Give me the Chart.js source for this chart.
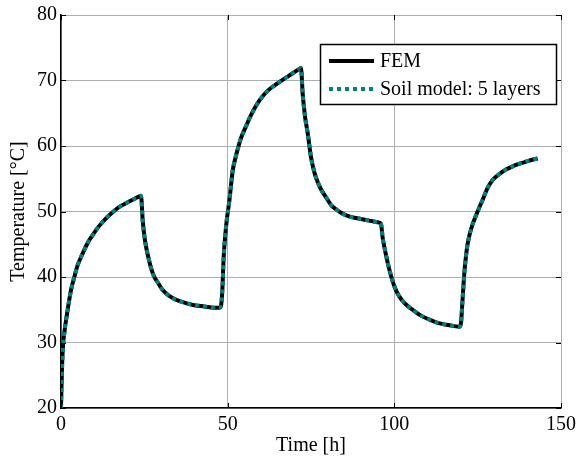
<!DOCTYPE html>
<html>
<head>
<meta charset="utf-8">
<script src="https://cdn.jsdelivr.net/npm/chart.js@4"></script>
<style>
  html, body { margin: 0; padding: 0; background: #fff; }
  #wrap { width: 578px; height: 462px; }
</style>
</head>
<body>
<div id="wrap"><canvas id="myChart" width="578" height="462"></canvas></div>
<script>
// time [h]
var time_h = [0, 0.3, 0.6, 1, 2, 3, 4, 5, 6.5, 8, 9.5, 11, 12.5, 14, 15.5, 17.5, 19.6, 21.5, 23.5, 24,
  24.5, 25, 25.6, 26.3, 27, 28, 29, 30.5, 32.5, 34.6, 37, 40, 43, 46, 47.5,
  48, 48.4, 48.8, 49.3, 49.8, 50.5, 51.5, 52.5, 54, 55.5, 56.6, 58, 59.6, 61, 62.6, 64.5, 66.5, 68, 69.5, 71, 72,
  72.5, 73.2, 74, 75, 76, 77, 78, 79.6, 81, 82.6, 84, 85.6, 87.5, 89.6, 91.5, 93.5, 95.5, 96,
  96.5, 97, 98, 99, 100, 101.5, 103.5, 105.5, 108, 110.5, 113, 115.6, 118, 119.5,
  120, 120.4, 121, 121.5, 122, 123, 124.6, 126.5, 128, 129.5, 131.5, 133.5, 135.5, 137.6, 140, 143];

// FEM temperature [C]
var fem_temp = [20, 26, 29.5, 31.5, 35, 38, 40, 41.8, 43.6, 45.2, 46.4, 47.5, 48.4, 49.2, 49.9, 50.7, 51.3, 51.8, 52.3, 52.4,
  48.7, 46.3, 44.4, 42.8, 41.4, 40.0, 39.2, 38.0, 37.1, 36.5, 36.1, 35.7, 35.5, 35.3, 35.3,
  35.6, 38, 43, 46.5, 49, 51.6, 56.2, 58.5, 61.2, 63, 64.3, 65.7, 67, 67.9, 68.7, 69.4, 70.1, 70.6, 71.1, 71.6, 71.9,
  68, 64.5, 62, 58.3, 56, 54.5, 53.4, 52.1, 51, 50.3, 49.8, 49.4, 49.1, 48.9, 48.7, 48.5, 48.3, 48.1,
  46, 44.6, 42.2, 40.2, 38.6, 37, 35.8, 35, 34.1, 33.5, 33, 32.7, 32.5, 32.4,
  33, 36, 40.6, 43.2, 45.1, 47.3, 49.5, 51.8, 53.6, 54.8, 55.7, 56.4, 56.9, 57.3, 57.7, 58.1];

// soil model, 5 layers (lies on top of FEM)
var soil_temp = [20, 26, 29.5, 31.5, 35, 38, 40, 41.8, 43.6, 45.2, 46.4, 47.5, 48.4, 49.2, 49.9, 50.7, 51.3, 51.8, 52.3, 52.4,
  48.7, 46.3, 44.4, 42.8, 41.4, 40.0, 39.2, 38.0, 37.1, 36.5, 36.1, 35.7, 35.5, 35.3, 35.3,
  35.6, 38, 43, 46.5, 49, 51.6, 56.2, 58.5, 61.2, 63, 64.3, 65.7, 67, 67.9, 68.7, 69.4, 70.1, 70.6, 71.1, 71.6, 71.9,
  68, 64.5, 62, 58.3, 56, 54.5, 53.4, 52.1, 51, 50.3, 49.8, 49.4, 49.1, 48.9, 48.7, 48.5, 48.3, 48.1,
  46, 44.6, 42.2, 40.2, 38.6, 37, 35.8, 35, 34.1, 33.5, 33, 32.7, 32.5, 32.4,
  33, 36, 40.6, 43.2, 45.1, 47.3, 49.5, 51.8, 53.6, 54.8, 55.7, 56.4, 56.9, 57.3, 57.7, 58.1];

var series_names = ['FEM', 'Soil model: 5 layers'];
var x_ticks = [0, 50, 100, 150];
var y_ticks = [20, 30, 40, 50, 60, 70, 80];

var FONT = 'Liberation Serif, Times New Roman, serif';

function toPoints(xs, ys) {
  let out = [];
  for (let i in xs) out.push({ x: xs[i], y: ys[i] });
  return out;
}

// matlab-style inner tick marks on all four sides
var innerTicks = {
  id: 'innerTicks',
  afterDatasetsDraw(chart) {
    const ctx = chart.ctx, a = chart.chartArea;
    const xs = chart.scales.x, ys = chart.scales.y;
    ctx.save();
    ctx.strokeStyle = '#000';
    ctx.lineWidth = 1;
    ctx.beginPath();
    x_ticks.forEach(v => {
      const px = Math.round(xs.getPixelForValue(v)) + 0.5;
      ctx.moveTo(px, a.bottom); ctx.lineTo(px, a.bottom - 5);
      ctx.moveTo(px, a.top); ctx.lineTo(px, a.top + 5);
    });
    y_ticks.forEach(v => {
      const py = Math.round(ys.getPixelForValue(v)) + 0.5;
      ctx.moveTo(a.left, py); ctx.lineTo(a.left + 5, py);
      ctx.moveTo(a.right, py); ctx.lineTo(a.right - 5, py);
    });
    ctx.stroke();
    ctx.restore();
  }
};

// legend box in upper right of plot
var boxLegend = {
  id: 'boxLegend',
  afterDraw(chart) {
    const ctx = chart.ctx;
    const bx = 320, by = 44, bw = 236, bh = 60;
    ctx.save();
    ctx.fillStyle = '#fff';
    ctx.fillRect(bx, by, bw, bh);
    ctx.strokeStyle = '#000';
    ctx.lineWidth = 1.5;
    ctx.strokeRect(bx + 0.5, by + 0.5, bw, bh);
    ctx.font = '20px ' + FONT;
    ctx.textBaseline = 'middle';
    ctx.textAlign = 'left';
    const rows = [61, 89];
    chart.data.datasets.forEach((ds, i) => {
      const y = rows[i];
      ctx.beginPath();
      ctx.strokeStyle = ds.borderColor;
      ctx.lineWidth = ds.borderWidth;
      ctx.setLineDash(ds.borderDash || []);
      ctx.moveTo(329, y); ctx.lineTo(374, y);
      ctx.stroke();
      ctx.setLineDash([]);
      ctx.fillStyle = '#000';
      ctx.fillText(ds.label, 380, y + 1);
    });
    ctx.restore();
  }
};

var ctx = document.getElementById('myChart').getContext('2d');
var myChart = new Chart(ctx, {
  type: 'line',
  data: {
    datasets: [{
      label: series_names[0],
      data: toPoints(time_h, fem_temp),
      borderColor: '#000',
      borderWidth: 4,
      pointRadius: 0,
      fill: false,
      cubicInterpolationMode: 'monotone',
      order: 2
    }, {
      label: series_names[1],
      data: toPoints(time_h, soil_temp),
      borderColor: 'rgb(0,128,128)',
      borderWidth: 4,
      borderDash: [4, 4],
      pointRadius: 0,
      fill: false,
      cubicInterpolationMode: 'monotone',
      order: 1
    }]
  },
  options: {
    responsive: false,
    animation: false,
    devicePixelRatio: 1,
    layout: { padding: { top: 15, right: 17, left: 0, bottom: 0 } },
    plugins: { legend: { display: false }, tooltip: { enabled: false } },
    scales: {
      x: {
        type: 'linear',
        min: 0, max: 150,
        afterBuildTicks: s => { s.ticks = x_ticks.map(v => ({ value: v })); },
        afterFit: s => { s.height = 54; s.paddingLeft = 0; s.paddingRight = 0; },
        ticks: { color: '#000', font: { family: FONT, size: 20 }, padding: 5, maxRotation: 0 },
        grid: { color: 'rgb(175,175,175)', lineWidth: 1, drawTicks: false },
        border: { color: '#000', width: 1.5 },
        title: { display: true, text: 'Time [h]', color: '#000', font: { family: FONT, size: 20 }, padding: { top: 0, bottom: 4 } }
      },
      y: {
        min: 20, max: 80,
        afterBuildTicks: s => { s.ticks = y_ticks.map(v => ({ value: v })); },
        afterFit: s => { s.width = 61; s.paddingTop = 0; s.paddingBottom = 0; },
        ticks: { color: '#000', font: { family: FONT, size: 20 }, padding: 4 },
        grid: { color: 'rgb(175,175,175)', lineWidth: 1, drawTicks: false },
        border: { color: '#000', width: 1.5 },
        title: { display: true, text: 'Temperature [°C]', color: '#000', font: { family: FONT, size: 20 }, padding: { top: 7, bottom: 0 } }
      }
    }
  },
  plugins: [innerTicks, boxLegend]
});
</script>
</body>
</html>
